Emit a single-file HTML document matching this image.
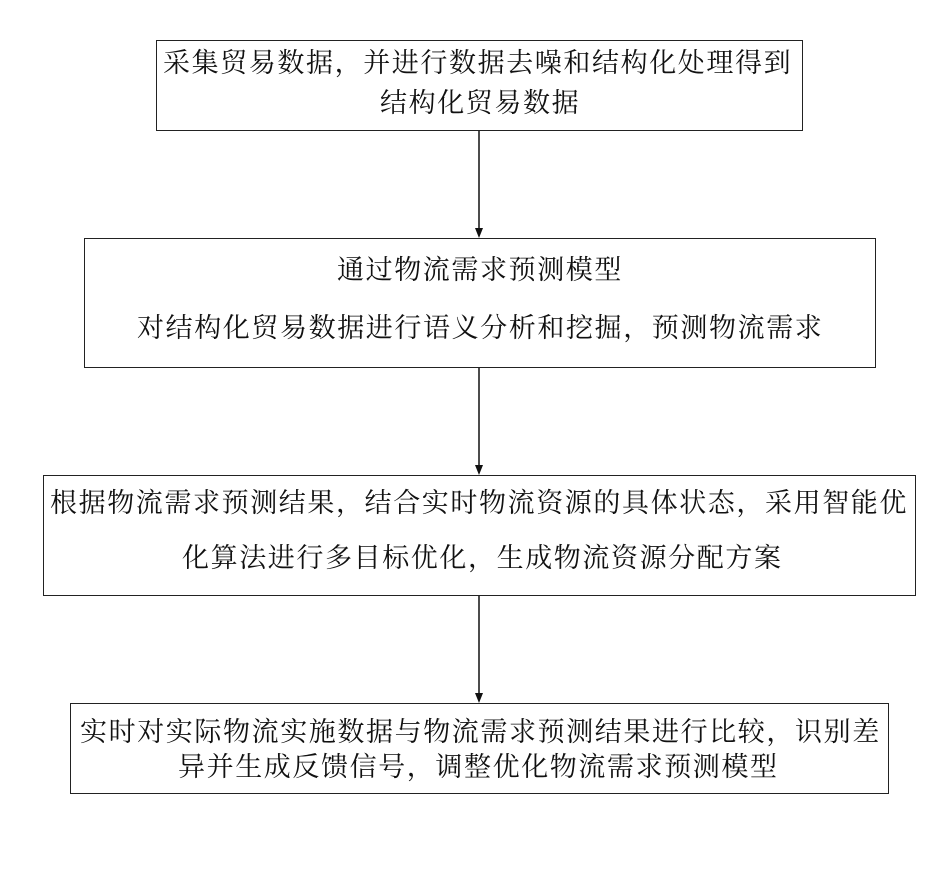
<!DOCTYPE html>
<html><head><meta charset="utf-8"><style>
body{margin:0;width:935px;height:877px;background:#fff;position:relative;overflow:hidden;font-family:"Liberation Serif","Noto Serif CJK SC",serif;color:#111}
.b{position:absolute;border:1.5px solid #222;box-sizing:border-box}
.t{position:absolute;font-size:27px;line-height:30px;white-space:nowrap;letter-spacing:1.6px}
</style></head><body>
<div class="b" style="left:156px;top:40px;width:647px;height:91px"></div>
<div class="b" style="left:84px;top:238px;width:792px;height:130px"></div>
<div class="b" style="left:43px;top:475px;width:873px;height:121px"></div>
<div class="b" style="left:70px;top:703px;width:819px;height:91px"></div>

<div class="t" style="left:163px;top:48px">采集贸易数据，并进行数据去噪和结构化处理得到</div>
<div class="t" style="left:380px;top:88px">结构化贸易数据</div>
<div class="t" style="left:337px;top:255px">通过物流需求预测模型</div>
<div class="t" style="left:137px;top:313px">对结构化贸易数据进行语义分析和挖掘，预测物流需求</div>
<div class="t" style="left:50px;top:488px">根据物流需求预测结果，结合实时物流资源的具体状态，采用智能优</div>
<div class="t" style="left:182px;top:543px">化算法进行多目标优化，生成物流资源分配方案</div>
<div class="t" style="left:80px;top:717px">实时对实际物流实施数据与物流需求预测结果进行比较，识别差</div>
<div class="t" style="left:178px;top:752px">异并生成反馈信号，调整优化物流需求预测模型</div>

<svg width="935" height="877" style="position:absolute;left:0;top:0">
<g stroke="#111" stroke-width="1.5" fill="#111">
<line x1="479" y1="131" x2="479" y2="230"/><polygon points="475,228 483,228 479,238" stroke="none"/>
<line x1="479" y1="368" x2="479" y2="467"/><polygon points="475,465 483,465 479,475" stroke="none"/>
<line x1="479" y1="596" x2="479" y2="695"/><polygon points="475,693 483,693 479,703" stroke="none"/>
</g></svg>
</body></html>
